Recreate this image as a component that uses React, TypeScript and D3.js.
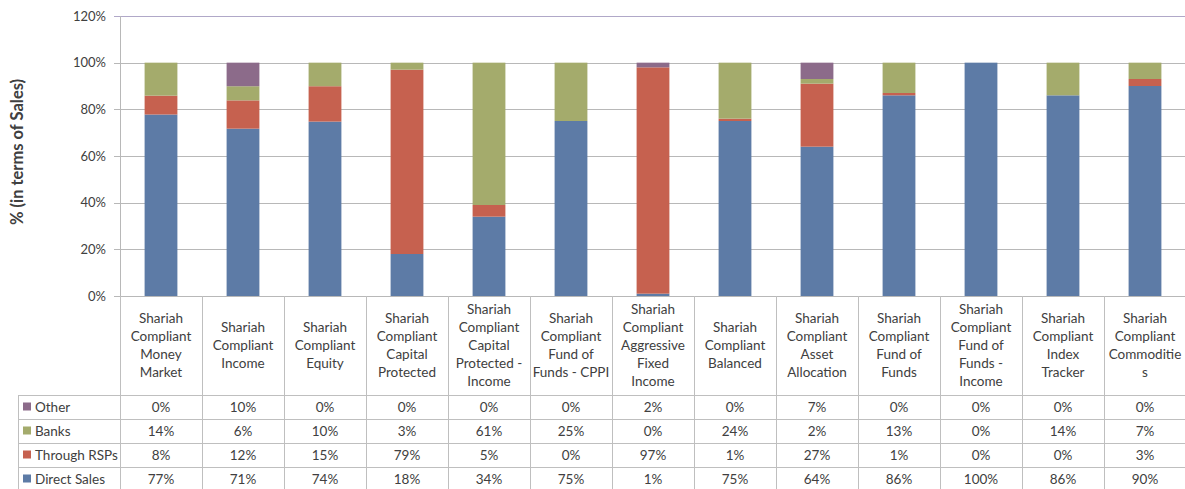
import React from "react";
import * as d3 from "d3";

const categories: string[][] = [
  ["Shariah", "Compliant", "Money", "Market"],
  ["Shariah", "Compliant", "Income"],
  ["Shariah", "Compliant", "Equity"],
  ["Shariah", "Compliant", "Capital", "Protected"],
  ["Shariah", "Compliant", "Capital", "Protected -", "Income"],
  ["Shariah", "Compliant", "Fund of", "Funds - CPPI"],
  ["Shariah", "Compliant", "Aggressive", "Fixed", "Income"],
  ["Shariah", "Compliant", "Balanced"],
  ["Shariah", "Compliant", "Asset", "Allocation"],
  ["Shariah", "Compliant", "Fund of", "Funds"],
  ["Shariah", "Compliant", "Fund of", "Funds -", "Income"],
  ["Shariah", "Compliant", "Index", "Tracker"],
  ["Shariah", "Compliant", "Commoditie", "s"],
];

const directSales = [77, 71, 74, 18, 34, 75, 1, 75, 64, 86, 100, 86, 90];
const throughRSPs = [8, 12, 15, 79, 5, 0, 97, 1, 27, 1, 0, 0, 3];
const banks = [14, 6, 10, 3, 61, 25, 0, 24, 2, 13, 0, 14, 7];
const other = [0, 10, 0, 0, 0, 0, 2, 0, 7, 0, 0, 0, 0];

const seriesNames = ["Direct Sales", "Through RSPs", "Banks", "Other"];
const seriesValues = [directSales, throughRSPs, banks, other];
const seriesColors = ["#5D7BA6", "#C6614F", "#A4AB6C", "#8C6B8A"];

const yTicks = [0, 0.2, 0.4, 0.6, 0.8, 1.0, 1.2];

const FONT = "Lato, 'Open Sans', sans-serif";
const TEXT = "#404040";
const GRID = "#B8B8B8";
const BORDER = "#BFBFBF";

export default function App() {
  const W = 1185;
  const H = 489;
  const left = 120;
  const right = 1186;
  const top = 16;
  const bottom = 296;
  const tableTop = 395;
  const rowH = 24;
  const tableLeft = 18;

  const x = d3
    .scaleBand<number>()
    .domain(categories.map((_, i) => i))
    .range([left, right])
    .padding(0);
  const y = d3.scaleLinear().domain([0, 1.2]).range([bottom, top]);
  const bw = x.bandwidth();
  const barW = bw * 0.4;

  // shares are rounded in the table; stacks are normalised to 100%
  const stackData = categories.map((_, i) => {
    const total = d3.sum(seriesValues, (s) => s[i]);
    const o: Record<string, number> = {};
    seriesNames.forEach((s, k) => (o[s] = seriesValues[k][i] / total));
    return o;
  });
  const stacked = d3.stack<Record<string, number>>().keys(seriesNames)(stackData);

  // table rows from top: Other, Banks, Through RSPs, Direct Sales
  const rowOrder = [3, 2, 1, 0];

  return (
    <svg
      width={W}
      height={H}
      style={{ position: "absolute", left: 0, top: 0, background: "#fff" }}
      fontFamily={FONT}
    >
      {/* gridlines */}
      {yTicks.map((t) => (
        <g key={t}>
          <line
            x1={left - 6}
            x2={W}
            y1={Math.round(y(t)) + 0.5}
            y2={Math.round(y(t)) + 0.5}
            stroke={t === 1.2 ? "#B0A8C8" : GRID}
            strokeWidth={1}
          />
          <text
            x={left - 14}
            y={y(t)}
            dy="0.35em"
            textAnchor="end"
            fontSize={13}
            fill={TEXT}
          >
            {d3.format(".0%")(t)}
          </text>
        </g>
      ))}
      {/* y axis line */}
      <line x1={left + 0.5} x2={left + 0.5} y1={top} y2={H} stroke={GRID} />

      {/* y title */}
      <text
        transform={`translate(23,${(top + bottom) / 2 - 4}) rotate(-90)`}
        textAnchor="middle"
        fontSize={16.5}
        fontWeight="bold"
        fill={TEXT}
      >
        % (in terms of Sales)
      </text>

      {/* bars */}
      {stacked.map((layer, k) => (
        <g key={layer.key} fill={seriesColors[k]}>
          {layer.map((d, i) => (
            <rect
              key={i}
              x={(x(i) as number) + (bw - barW) / 2}
              y={y(d[1])}
              width={barW}
              height={Math.max(0, y(d[0]) - y(d[1]))}
            />
          ))}
        </g>
      ))}

      {/* column separators in table */}
      {categories.map((_, i) => (
        <line
          key={i}
          x1={Math.round(x(i) as number) + 0.5}
          x2={Math.round(x(i) as number) + 0.5}
          y1={bottom}
          y2={H}
          stroke={BORDER}
        />
      ))}

      {/* category labels */}
      {categories.map((lines, i) => {
        const cx = (x(i) as number) + bw / 2;
        const cy = (bottom + tableTop) / 2;
        const lh = 18;
        const start = cy - ((lines.length - 1) * lh) / 2;
        return (
          <text key={i} textAnchor="middle" fontSize={13.5} fill={TEXT}>
            {lines.map((l, j) => (
              <tspan key={j} x={cx} y={start + j * lh} dy="0.35em">
                {l}
              </tspan>
            ))}
          </text>
        );
      })}

      {/* table horizontal lines */}
      {rowOrder.map((_, r) => (
        <line
          key={r}
          x1={tableLeft}
          x2={W}
          y1={tableTop + r * rowH + 0.5}
          y2={tableTop + r * rowH + 0.5}
          stroke={BORDER}
        />
      ))}
      <line
        x1={tableLeft + 0.5}
        x2={tableLeft + 0.5}
        y1={tableTop}
        y2={H}
        stroke={BORDER}
      />

      {/* table rows */}
      {rowOrder.map((k, r) => {
        const cy = tableTop + r * rowH + rowH / 2;
        return (
          <g key={k}>
            <rect
              x={23}
              y={cy - 4.5}
              width={8}
              height={8}
              fill={seriesColors[k]}
            />
            <text x={35} y={cy} dy="0.35em" fontSize={13.5} fill={TEXT}>
              {seriesNames[k]}
            </text>
            {seriesValues[k].map((v, i) => (
              <text
                key={i}
                x={(x(i) as number) + bw / 2}
                y={cy}
                dy="0.35em"
                textAnchor="middle"
                fontSize={13.5}
                fill={TEXT}
              >
                {v}%
              </text>
            ))}
          </g>
        );
      })}
    </svg>
  );
}
